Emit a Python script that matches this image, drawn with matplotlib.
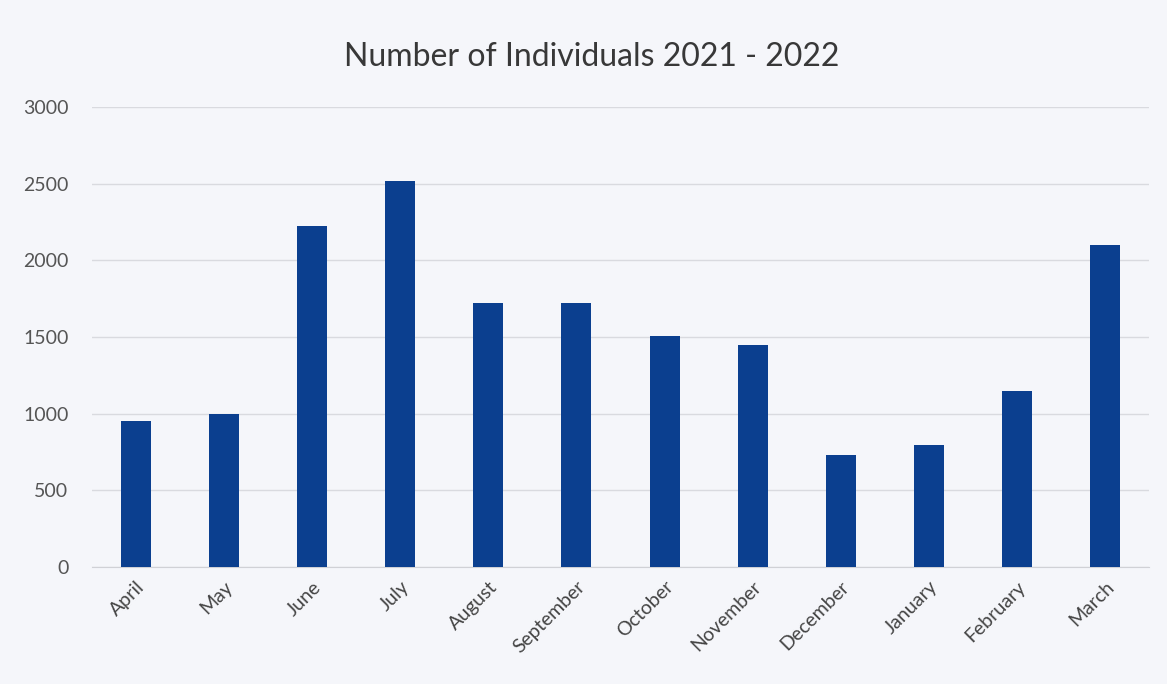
import matplotlib.pyplot as plt

months = ['April', 'May', 'June', 'July', 'August', 'September',
          'October', 'November', 'December', 'January', 'February', 'March']
individuals = [950, 1000, 2225, 2520, 1720, 1720, 1505, 1450, 730, 795, 1150, 2100]
y_ticks = [0, 500, 1000, 1500, 2000, 2500, 3000]

plt.rcParams['font.family'] = ['Lato', 'DejaVu Sans']

bg = '#f5f6fa'
fig = plt.figure(figsize=(11.67, 6.84), dpi=100, facecolor=bg)
ax = fig.add_axes([0.0788, 0.171, 0.9058, 0.6726], facecolor=bg)

x = range(len(months))
ax.bar(x, individuals, width=0.34, color='#0b3f8f', zorder=3)

ax.set_xlim(-0.5, len(months) - 0.5)
ax.set_ylim(0, 3000)
ax.set_yticks(y_ticks)
ax.set_yticklabels([str(v) for v in y_ticks], color='#555555', fontsize=14)
ax.set_xticks(list(x))
ax.set_xticklabels(months, rotation=45, ha='right', rotation_mode='anchor',
                   color='#444444', fontsize=14)
ax.tick_params(axis='both', length=0)
ax.tick_params(axis='y', pad=17)
ax.tick_params(axis='x', pad=8)

ax.grid(axis='y', color='#d9dadf', linewidth=1, zorder=0)
for side in ['top', 'right', 'left']:
    ax.spines[side].set_visible(False)
ax.spines['bottom'].set_color('#d0d1d6')

fig.text(0.507, 0.916, 'Number of Individuals 2021 - 2022', ha='center', va='center',
         fontsize=23, color='#383838')

fig.savefig('out.png', dpi=100, facecolor=bg)
